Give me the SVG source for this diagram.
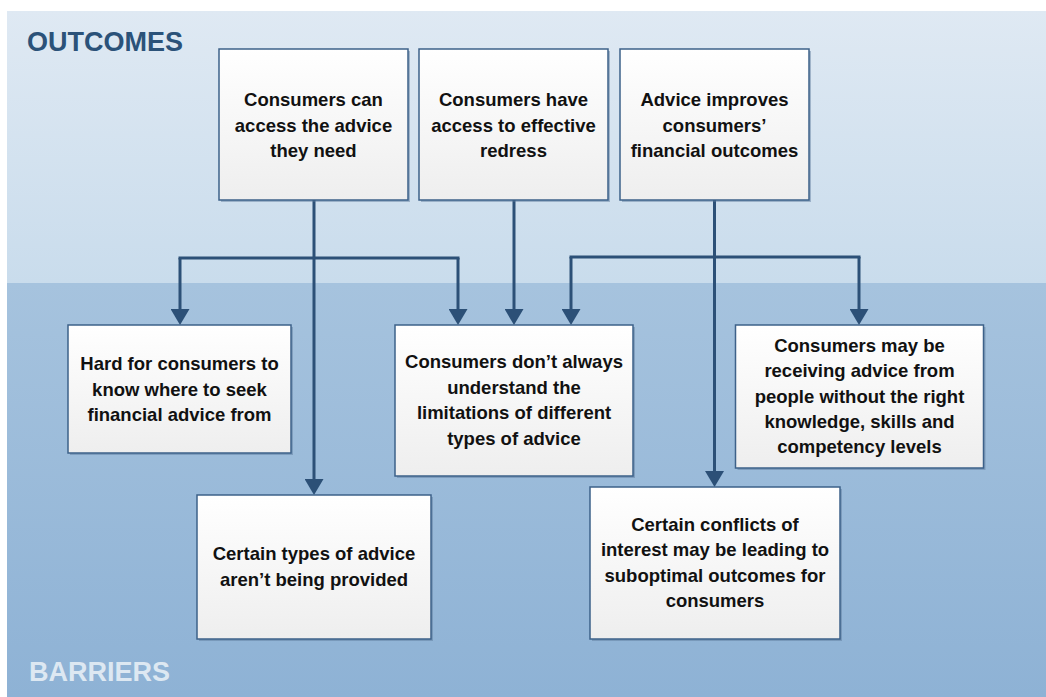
<svg xmlns="http://www.w3.org/2000/svg" width="1046" height="697" viewBox="0 0 1046 697">
  <defs>
    <linearGradient id="gTop" x1="0" y1="0" x2="0" y2="1">
      <stop offset="0" stop-color="#dfe9f3"/>
      <stop offset="1" stop-color="#c9dcec"/>
    </linearGradient>
    <linearGradient id="gBot" x1="0" y1="0" x2="0" y2="1">
      <stop offset="0" stop-color="#a6c3de"/>
      <stop offset="1" stop-color="#8eb2d5"/>
    </linearGradient>
    <linearGradient id="gBox" x1="0" y1="0" x2="0" y2="1">
      <stop offset="0" stop-color="#ffffff"/>
      <stop offset="1" stop-color="#eeeeee"/>
    </linearGradient>
    <marker id="ah" viewBox="0 0 16 19" refX="8" refY="9.5" markerWidth="16" markerHeight="19" markerUnits="userSpaceOnUse" orient="auto">
      <path d="M0,0 L16,9.5 L0,19 Z" fill="#2c5077"/>
    </marker>
  </defs>
  <style>
    .box { fill: url(#gBox); stroke: #3d6189; stroke-width: 1.5; }
    .shadow { fill: #5a7898; opacity: 0.45; }
    .t { font-family: "Liberation Sans", Arial, sans-serif; font-weight: bold; font-size: 18.5px; fill: #111111; text-anchor: middle; }
    .conn { fill: none; stroke: #2c5077; stroke-width: 3; }
    .title { font-family: "Liberation Sans", Arial, sans-serif; font-weight: bold; font-size: 27px; }
  </style>

  <rect x="0" y="0" width="1046" height="697" fill="#ffffff"/>
  <rect x="7" y="11" width="1039" height="272" fill="url(#gTop)"/>
  <rect x="7" y="283" width="1039" height="414" fill="url(#gBot)"/>

  <text class="title" x="27" y="51" fill="#2b5279">OUTCOMES</text>
  <text class="title" x="29" y="681" fill="#dde8f2">BARRIERS</text>

  <g id="connectors">
    <path class="conn" d="M314,200 L314,487" marker-end="url(#ah)"/>
    <path class="conn" d="M180,258 L180,317" marker-end="url(#ah)"/>
    <path class="conn" d="M458,258 L458,317" marker-end="url(#ah)"/>
    <path class="conn" d="M178.5,258 L459.5,258"/>
    <path class="conn" d="M514,200 L514,317" marker-end="url(#ah)"/>
    <path class="conn" d="M714.5,200 L714.5,479" marker-end="url(#ah)"/>
    <path class="conn" d="M569.5,257 L860.5,257"/>
    <path class="conn" d="M571,257 L571,317" marker-end="url(#ah)"/>
    <path class="conn" d="M859,257 L859,317" marker-end="url(#ah)"/>
  </g>

  <g id="outcome-access">
    <rect class="shadow" x="221" y="51" width="189" height="151"/>
    <rect class="box" x="219" y="49" width="189" height="151"/>
    <text class="t" x="313.5" y="106">Consumers can</text>
    <text class="t" x="313.5" y="131.5">access the advice</text>
    <text class="t" x="313.5" y="157">they need</text>
  </g>

  <g id="outcome-redress">
    <rect class="shadow" x="421" y="51" width="189" height="151"/>
    <rect class="box" x="419" y="49" width="189" height="151"/>
    <text class="t" x="513.5" y="106">Consumers have</text>
    <text class="t" x="513.5" y="131.5">access to effective</text>
    <text class="t" x="513.5" y="157">redress</text>
  </g>

  <g id="outcome-improves">
    <rect class="shadow" x="622" y="51" width="189" height="151"/>
    <rect class="box" x="620" y="49" width="189" height="151"/>
    <text class="t" x="714.5" y="106">Advice improves</text>
    <text class="t" x="714.5" y="131.5">consumers’</text>
    <text class="t" x="714.5" y="157">financial outcomes</text>
  </g>

  <g id="barrier-hard">
    <rect class="shadow" x="70" y="327" width="223" height="128"/>
    <rect class="box" x="68" y="325" width="223" height="128"/>
    <text class="t" x="179.5" y="370">Hard for consumers to</text>
    <text class="t" x="179.5" y="395.5">know where to seek</text>
    <text class="t" x="179.5" y="421">financial advice from</text>
  </g>

  <g id="barrier-types">
    <rect class="shadow" x="199" y="497" width="234" height="144"/>
    <rect class="box" x="197" y="495" width="234" height="144"/>
    <text class="t" x="314" y="560">Certain types of advice</text>
    <text class="t" x="314" y="585.5">aren’t being provided</text>
  </g>

  <g id="barrier-understand">
    <rect class="shadow" x="397" y="327" width="238" height="151"/>
    <rect class="box" x="395" y="325" width="238" height="151"/>
    <text class="t" x="514" y="368">Consumers don’t always</text>
    <text class="t" x="514" y="393.5">understand the</text>
    <text class="t" x="514" y="419">limitations of different</text>
    <text class="t" x="514" y="444.5">types of advice</text>
  </g>

  <g id="barrier-competency">
    <rect class="shadow" x="737.5" y="327" width="248" height="143"/>
    <rect class="box" x="735.5" y="325" width="248" height="143"/>
    <text class="t" x="859.5" y="351.5">Consumers may be</text>
    <text class="t" x="859.5" y="377">receiving advice from</text>
    <text class="t" x="859.5" y="402.5">people without the right</text>
    <text class="t" x="859.5" y="428">knowledge, skills and</text>
    <text class="t" x="859.5" y="453">competency levels</text>
  </g>

  <g id="barrier-conflicts">
    <rect class="shadow" x="592" y="489" width="250" height="152"/>
    <rect class="box" x="590" y="487" width="250" height="152"/>
    <text class="t" x="715" y="530.5">Certain conflicts of</text>
    <text class="t" x="715" y="556">interest may be leading to</text>
    <text class="t" x="715" y="581.5">suboptimal outcomes for</text>
    <text class="t" x="715" y="607">consumers</text>
  </g>
</svg>
